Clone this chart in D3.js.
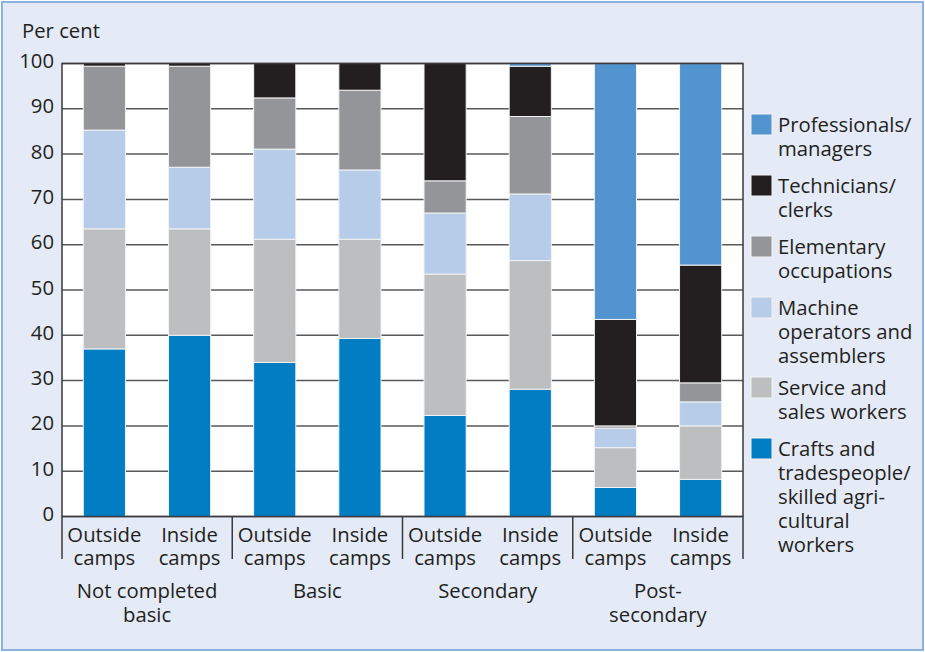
<!DOCTYPE html>
<html><head><meta charset="utf-8">
<script src="https://cdn.jsdelivr.net/npm/d3@7"></script>
<style>body{margin:0;background:#fff}svg{display:block}text{font-family:"Open Sans",sans-serif;fill:#231f20}</style>
</head><body><svg id="c" width="925" height="652"></svg>
<script>
const bars = ["Outside camps","Inside camps","Outside camps","Inside camps","Outside camps","Inside camps","Outside camps","Inside camps"];
const groups = ["Not completed basic","Basic","Secondary","Post-secondary"];
const series = ["Crafts and tradespeople/ skilled agri-cultural workers","Service and sales workers","Machine operators and assemblers","Elementary occupations","Technicians/ clerks","Professionals/ managers"];
const crafts       = [37.0, 40.0, 34.0, 39.3, 22.3, 28.1,  6.4,  8.2];
const service      = [26.5, 23.5, 27.2, 21.9, 31.2, 28.4,  8.8, 11.8];
const machine      = [21.8, 13.6, 19.9, 15.3, 13.5, 14.7,  4.3,  5.3];
const elementary   = [14.1, 22.3, 11.3, 17.6,  7.1, 17.1,  0.5,  4.2];
const technicians  = [ 0.6,  0.6,  7.6,  5.9, 25.9, 11.1, 23.5, 26.0];
const professionals= [ 0.0,  0.0,  0.0,  0.0,  0.0,  0.6, 56.5, 44.5];
const yTicks = [0,10,20,30,40,50,60,70,80,90,100];
const colors = ["#007dc3","#bcbec0","#b7cce9","#939598","#231f20","#5294cf"];
const legendLines = [["Professionals/","managers"],["Technicians/","clerks"],["Elementary","occupations"],["Machine","operators and","assemblers"],["Service and","sales workers"],["Crafts and","tradespeople/","skilled agri-","cultural","workers"]];
const legendColors = ["#5294cf","#231f20","#939598","#b7cce9","#bcbec0","#007dc3"];

const FS = 20.3;
const svg = d3.select("#c");
svg.append("rect").attr("x",2).attr("y",2).attr("width",921).attr("height",648)
  .attr("fill","#e4eaf6").attr("stroke","#8db2df").attr("stroke-width",2);

const L=62,R=743,T=63.5,B=516.5;
const x = d3.scaleBand().domain(d3.range(bars.length)).range([L,R]).paddingInner(0.505).paddingOuter(0.25);
const y = d3.scaleLinear().domain([0,100]).range([B,T]);

svg.append("rect").attr("x",L).attr("y",T).attr("width",R-L).attr("height",B-T).attr("fill","#fff");
// gridlines
svg.append("g").selectAll("line").data(yTicks).join("line")
  .attr("x1",L).attr("x2",R).attr("y1",d=>y(d)).attr("y2",d=>y(d))
  .attr("stroke","#58595b").attr("stroke-width",1.5);

const rows = d3.range(bars.length).map(i=>({i, s0:crafts[i],s1:service[i],s2:machine[i],s3:elementary[i],s4:technicians[i],s5:professionals[i]}));
const stack = d3.stack().keys(["s0","s1","s2","s3","s4","s5"])(rows);
svg.append("g").selectAll("g").data(stack).join("g").attr("fill",(d,k)=>colors[k])
  .selectAll("rect").data(d=>d.filter(p=>p[1]-p[0]>0)).join("rect")
  .attr("x",d=>x(d.data.i)).attr("width",x.bandwidth())
  .attr("y",d=>y(d[1])).attr("height",d=>y(d[0])-y(d[1]))
  .attr("stroke","#f2f2f2").attr("stroke-width",1);

// plot frame
svg.append("rect").attr("x",L).attr("y",T).attr("width",R-L).attr("height",B-T)
  .attr("fill","none").attr("stroke","#3a3a3c").attr("stroke-width",1.5);

// y labels
svg.append("g").selectAll("text").data(yTicks).join("text")
  .attr("x",54).attr("y",d=>y(d)+4.5).attr("text-anchor","end").attr("font-size",FS).text(d=>d);
svg.append("text").attr("x",22).attr("y",38).attr("font-size",FS).text("Per cent");

// x group dividers
const divs = d3.range(groups.length+1).map(g=>L+(R-L)*g/groups.length);
svg.append("g").selectAll("line").data(divs).join("line")
  .attr("x1",d=>d).attr("x2",d=>d).attr("y1",B).attr("y2",559)
  .attr("stroke","#3a3a3c").attr("stroke-width",1.5);

// bar labels (one text per line)
const barLines = [];
bars.forEach((d,i)=>d.split(" ").forEach((p,j)=>barLines.push({i,j,p})));
svg.append("g").selectAll("text").data(barLines).join("text")
  .attr("text-anchor","middle").attr("font-size",FS)
  .attr("x",d=>x(d.i)+x.bandwidth()/2).attr("y",d=>542+d.j*23).text(d=>d.p);

// group labels
const gLines = [["Not completed","basic"],["Basic"],["Secondary"],["Post-","secondary"]];
const gl = [];
gLines.forEach((ls,g)=>ls.forEach((p,j)=>gl.push({g,j,p})));
svg.append("g").selectAll("text").data(gl).join("text")
  .attr("text-anchor","middle").attr("font-size",FS)
  .attr("x",d=>(divs[d.g]+divs[d.g+1])/2).attr("y",d=>598+d.j*23.5).text(d=>d.p);

// legend
const legTop=[114,175,236,297,377,438];
const lg = svg.append("g").selectAll("g").data(legendLines).join("g")
  .attr("transform",(d,k)=>`translate(751,${legTop[k]})`);
lg.append("rect").attr("width",21).attr("height",21).attr("fill",(d,k)=>legendColors[k]).attr("stroke","#f2f2f2").attr("stroke-width",1);
lg.each(function(d){
  d3.select(this).selectAll("text").data(d).join("text").attr("font-size",FS)
    .attr("x",27).attr("y",(p,j)=>18+j*24).text(p=>p);
});
</script></body></html>
